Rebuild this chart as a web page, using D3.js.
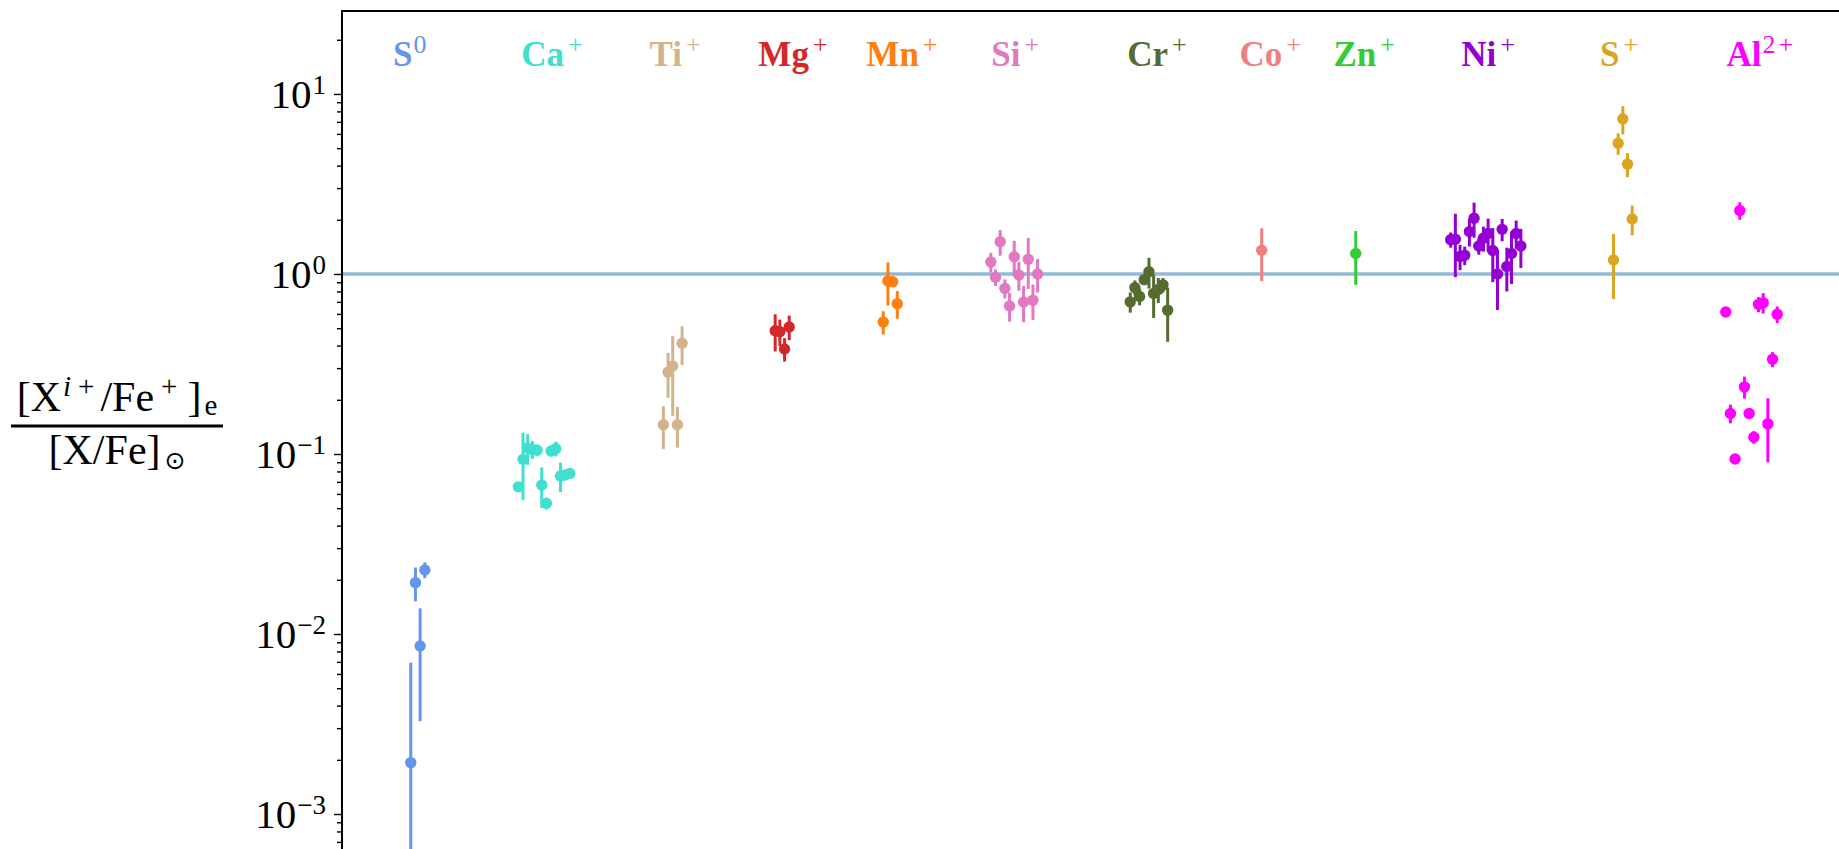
<!DOCTYPE html>
<html>
<head>
<meta charset="utf-8">
<script src="https://cdn.jsdelivr.net/npm/d3@7"></script>
<style>
  html, body { margin: 0; padding: 0; background: #fff; }
  svg { display: block; }
</style>
</head>
<body>
<svg id="chart" width="1839" height="849"></svg>
<script>
// Species along the x axis: element symbol and ionisation state
const speciesBase   = ["S", "Ca", "Ti", "Mg", "Mn", "Si", "Cr", "Co", "Zn", "Ni", "S", "Al"];
const speciesCharge = ["0", "+", "+", "+", "+", "+", "+", "+", "+", "+", "+", "2+"];
const speciesColors = ["#6495ED", "#40E0D0", "#D2B48C", "#d62728", "#ff7f0e", "#e377c2",
                       "#556B2F", "#F08080", "#32CD32", "#9400D3", "#DAA520", "#FF00FF"];

// Centre of each species' cluster and of its label, in x-axis units
const groupCenter = [1.62, 4.32, 7.07, 9.41, 11.72, 14.37, 17.25, 19.66, 21.67, 24.45, 27.38, 30.13];
const labelPos    = [1.45, 4.49, 7.12, 9.64, 11.97, 14.39, 17.42, 19.84, 21.85, 24.50, 27.30, 30.31];
const pointStep = 0.1;   // spacing between individual measurements inside a cluster

// Abundance ratios [value, symmetric 1-sigma error]
const S0 = [[0.00193, 0.0050], [0.0193, 0.0041], [0.00858, 0.0053], [0.0227, 0.0023]];
const Ca = [[0.0657, 0.004], [0.0934, 0.038], [0.108, 0.021], [0.106, 0.012], [0.105, 0.008],
            [0.0672, 0.017], [0.0532, 0.004], [0.104, 0.007], [0.107, 0.010], [0.0755, 0.014],
            [0.0765, 0.005], [0.078, 0.005]];
const Ti = [[0.1455, 0.039], [0.285, 0.080], [0.308, 0.145], [0.1455, 0.037], [0.412, 0.100]];
const Mg = [[0.484, 0.113], [0.478, 0.080], [0.383, 0.057], [0.508, 0.079]];
const Mn = [[0.541, 0.080], [0.914, 0.245], [0.906, 0.050], [0.684, 0.120]];
const Si = [[1.166, 0.145], [0.958, 0.100], [1.51, 0.245], [0.832, 0.100], [0.664, 0.120],
            [1.248, 0.280], [0.987, 0.180], [0.699, 0.160], [1.206, 0.380], [0.714, 0.160],
            [1.00, 0.210]];
const Cr = [[0.70, 0.09], [0.84, 0.08], [0.75, 0.08], [0.93, 0.06], [1.03, 0.20],
            [0.78, 0.21], [0.82, 0.13], [0.87, 0.08], [0.63, 0.21]];
const Co = [[1.354, 0.44]];
const Zn = [[1.30, 0.43]];
const Ni = [[1.55, 0.15], [1.56, 0.60], [1.25, 0.20], [1.27, 0.15], [1.72, 0.30], [2.04, 0.45],
            [1.43, 0.15], [1.58, 0.25], [1.68, 0.35], [1.35, 0.45], [1.00, 0.37], [1.77, 0.25],
            [1.10, 0.30], [1.30, 0.42], [1.68, 0.30], [1.43, 0.35]];
const SII = [[1.196, 0.47], [5.32, 0.73], [7.26, 1.30], [4.07, 0.62], [2.02, 0.38]];
const Al = [[0.615, 0.010], [0.168, 0.020], [0.0938, 0.003], [2.25, 0.25], [0.236, 0.033],
            [0.168, 0.004], [0.124, 0.010], [0.678, 0.065], [0.693, 0.090], [0.147, 0.057],
            [0.336, 0.032], [0.597, 0.063]];
const measurements = [S0, Ca, Ti, Mg, Mn, Si, Cr, Co, Zn, Ni, SII, Al];

// Log-axis major ticks and their exponents
const tickValues    = [1e-3, 1e-2, 1e-1, 1, 10];
const tickExponents = ["\u22123", "\u22122", "\u22121", "0", "1"];
const referenceLevel = 1;   // solar ratio

const svg = d3.select("#chart");
const plot = { left: 342, top: 11, right: 1900, bottom: 880 };

const x = d3.scaleLinear().domain([0, 32]).range([plot.left, plot.left + 32 * 46.78]);
const y = d3.scaleLog().domain([4.3e-4, 28.9]).range([plot.bottom, plot.top]);

svg.append("defs").append("clipPath").attr("id", "plotClip")
  .append("rect")
  .attr("x", plot.left).attr("y", plot.top)
  .attr("width", plot.right - plot.left).attr("height", plot.bottom - plot.top);

// Solar reference line
svg.append("line")
  .attr("x1", plot.left).attr("x2", plot.right)
  .attr("y1", y(referenceLevel)).attr("y2", y(referenceLevel))
  .attr("stroke", "#1f77b4").attr("stroke-opacity", 0.5).attr("stroke-width", 3.4);

// Measurements with error bars
const data = svg.append("g").attr("clip-path", "url(#plotClip)");
measurements.forEach((series, gi) => {
  const n = series.length;
  const color = speciesColors[gi];
  series.forEach(([v, e], k) => {
    const xv = x(groupCenter[gi] + (k - (n - 1) / 2) * pointStep);
    const lo = v - e > 0 ? v - e : y.domain()[0];
    data.append("line")
      .attr("x1", xv).attr("x2", xv)
      .attr("y1", y(lo)).attr("y2", y(v + e))
      .attr("stroke", color).attr("stroke-width", 3);
    data.append("circle")
      .attr("cx", xv).attr("cy", y(v)).attr("r", 5.7)
      .attr("fill", color);
  });
});

// Species labels
const serif = "'Liberation Serif', 'Times New Roman', 'DejaVu Serif', serif";
speciesBase.forEach((base, i) => {
  const t = svg.append("text")
    .attr("x", x(labelPos[i])).attr("y", 66)
    .attr("text-anchor", "middle")
    .attr("fill", speciesColors[i])
    .style("font-family", serif);
  t.append("tspan").style("font-size", "35px").style("font-weight", "bold").text(base);
  const ch = speciesCharge[i];
  if (ch === "2+") {
    t.append("tspan").attr("dx", 1).attr("dy", -13).style("font-size", "26px").text("2");
    t.append("tspan").attr("dx", 3).style("font-size", "26px").text("+");
  } else {
    t.append("tspan").attr("dx", ch === "0" ? 1 : 4).attr("dy", -13)
      .style("font-size", "26px").text(ch);
  }
});

// Y axis: major and minor ticks
const minorTicks = [];
for (let p = -4; p <= 1; p++) {
  for (let m = 2; m <= 9; m++) {
    const v = m * Math.pow(10, p);
    if (v > y.domain()[0] && v < y.domain()[1]) minorTicks.push(v);
  }
}
const axisG = svg.append("g").attr("transform", `translate(${plot.left},0)`);
axisG.call(d3.axisLeft(y).tickValues(tickValues).tickSize(8).tickFormat(""));
axisG.append("g").call(d3.axisLeft(y).tickValues(minorTicks).tickSize(5).tickFormat(""));
axisG.selectAll(".domain").remove();
axisG.selectAll(".tick line").attr("stroke", "#000").attr("stroke-width", 1.4);

tickValues.forEach((v, i) => {
  const t = svg.append("text")
    .attr("x", plot.left - 16).attr("y", y(v) + 14)
    .attr("text-anchor", "end")
    .style("font-family", serif).style("font-size", "41px").attr("fill", "#000");
  t.append("tspan").text("10");
  t.append("tspan").attr("dx", 1).attr("dy", -14).style("font-size", "27px").text(tickExponents[i]);
});

// Frame (top and left spines)
svg.append("rect")
  .attr("x", plot.left).attr("y", plot.top)
  .attr("width", plot.right - plot.left).attr("height", plot.bottom - plot.top)
  .attr("fill", "none").attr("stroke", "#000").attr("stroke-width", 2);

// Y-axis title as a fraction
const fracX = 117;
const num = svg.append("text")
  .attr("x", fracX).attr("y", 411)
  .attr("text-anchor", "middle")
  .style("font-family", serif).style("font-size", "42px").attr("fill", "#000");
num.append("tspan").text("[X");
num.append("tspan").attr("dx", 2).attr("dy", -15).style("font-size", "29px").style("font-style", "italic").text("i");
num.append("tspan").attr("dx", 7).style("font-size", "29px").text("+");
num.append("tspan").attr("dx", 6).attr("dy", 15).text("/Fe");
num.append("tspan").attr("dx", 7).attr("dy", -15).style("font-size", "29px").text("+");
num.append("tspan").attr("dx", 10).attr("dy", 15).text("]");
num.append("tspan").attr("dx", 3).attr("dy", 4).style("font-size", "29px").text("e");

svg.append("line")
  .attr("x1", 11).attr("x2", 223).attr("y1", 426).attr("y2", 426)
  .attr("stroke", "#000").attr("stroke-width", 3);

const den = svg.append("text")
  .attr("x", fracX).attr("y", 464)
  .attr("text-anchor", "middle")
  .style("font-family", serif).style("font-size", "42px").attr("fill", "#000");
den.append("tspan").text("[X/Fe]");
den.append("tspan").attr("dx", 4).attr("dy", 5)
  .style("font-family", "'DejaVu Sans', sans-serif").style("font-size", "25px").text("\u2299");
</script>
</body>
</html>
